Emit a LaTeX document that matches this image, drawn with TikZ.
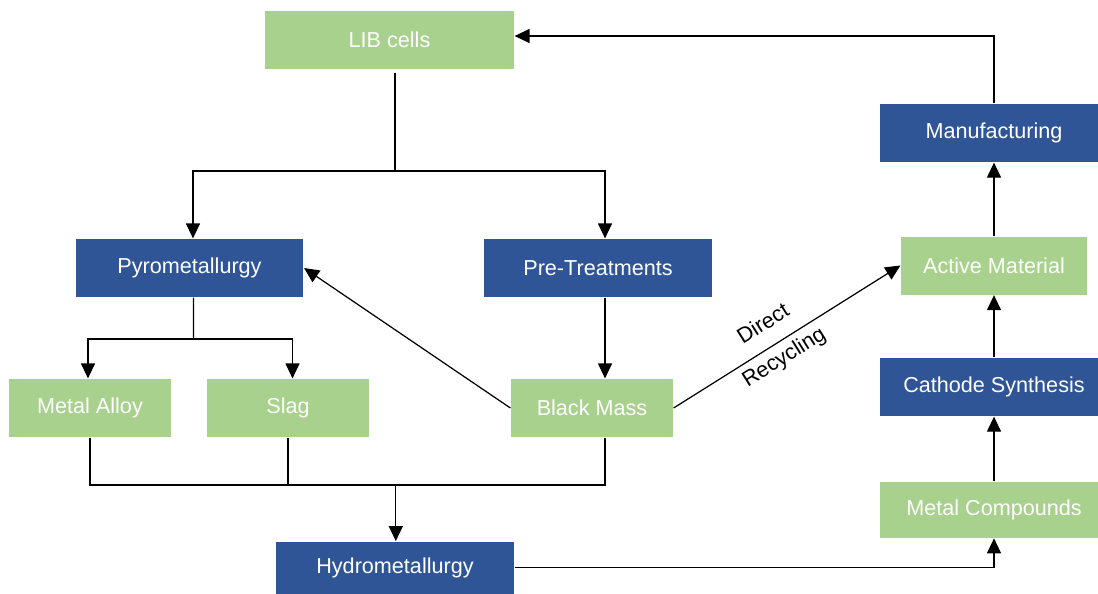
\documentclass[tikz,border=0pt]{standalone}
\usepackage{fontspec}
\setmainfont{Liberation Sans}
\usetikzlibrary{arrows.meta, positioning}
\definecolor{boxgreen}{HTML}{A9D18E}
\definecolor{boxblue}{HTML}{2F5597}
\tikzset{greenbox/.style={fill=boxgreen,text=white,inner sep=0pt,minimum height=1.16cm},
         bluebox/.style={fill=boxblue,text=white,inner sep=0pt,minimum height=1.16cm},
         arr/.style={-{Triangle[length=0.3cm,width=0.28cm]}}}

\begin{document}
\begin{tikzpicture}[x=0.02cm,y=-0.02cm,line width=0.7pt,font=\fontsize{12.3}{14}\selectfont]
        \useasboundingbox (0,0) rectangle (1098,593);
        \node[greenbox, minimum width=4.98cm](lib)at(389.5,40){LIB cells};
        \node[bluebox, minimum width=4.56cm](manuf)at(994,133){Manufacturing};
        \node[bluebox, minimum width=4.56cm](pyro)at(189.5,268){Pyrometallurgy};
        \node[bluebox, minimum width=4.58cm](pretreat)at(598,268){Pre-Treatments};
        \node[greenbox, minimum width=3.72cm](active)at(994,265.5){Active Material};
        \node[greenbox, minimum width=3.24cm](alloy)at(90,408){Metal Alloy};
        \node[greenbox, minimum width=3.24cm](slag)at(288,408){Slag};
        \node[greenbox, minimum width=3.24cm](black)at(592,408){Black Mass};
        \node[bluebox, minimum width=4.56cm](cathode)at(994,387){Cathode Synthesis};
        \node[greenbox, minimum width=4.56cm, minimum height=1.12cm](compounds)at(994,509.7){Metal Compounds};
        \node[bluebox, minimum width=4.76cm, minimum height=1.04cm](hydro)at(395,567.7){Hydrometallurgy};

        \coordinate(libsplit)at(395,171);
        \coordinate(pyrosplit)at(193.5,339);
        \coordinate(merge)at(395.8,485);

        \draw([yshift=-0.06cm]lib.south -| libsplit)--(libsplit);
        \draw[arr](libsplit)-|([xshift=0.07cm]pyro.north);
        \draw[arr](libsplit)-|([xshift=0.14cm]pretreat.north);
        \draw[arr]([xshift=0.14cm]pretreat.south)--([xshift=0.14cm]pretreat.south |- black.north);
        \draw[arr](black.west)--(pyro.east);
        \draw[arr](black.east)--(active.west)
            node[pos=0.45, above=0.2cm, sloped, text=black]{Direct}
            node[pos=0.45, below, sloped, text=black]{Recycling};

        \draw([xshift=0.08cm]pyro.south)--(pyrosplit);
        \draw[arr](pyrosplit)-|([xshift=-0.04cm]alloy.north);
        \draw[arr](pyrosplit)-|([xshift=0.09cm]slag.north);

        \draw(alloy.south)|-(merge);
        \draw(slag.south)--(slag.south |- merge);
        \draw([xshift=0.26cm]black.south)|-(merge);
        \draw[arr](merge)--(merge |- hydro.north);

        \draw[arr](hydro.east)-|(compounds.south);
        \draw[arr](compounds)--(cathode);
        \draw[arr](cathode)--(active);
        \draw[arr](active)--(manuf);
        \draw[arr](manuf.north)|-([yshift=0.08cm]lib.east);
    \end{tikzpicture}
\end{document}
